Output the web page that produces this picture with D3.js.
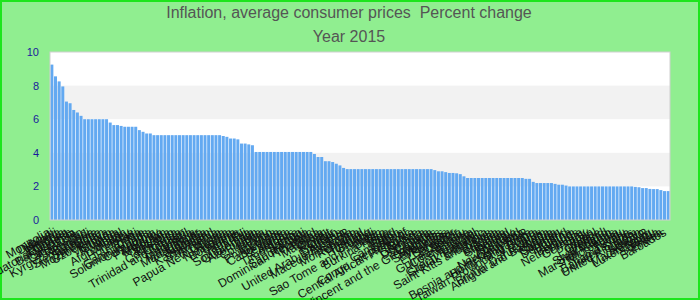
<!DOCTYPE html>
<html>
<head>
<meta charset="utf-8">
<script src="https://cdn.jsdelivr.net/npm/d3@7"></script>
<style>
  body { margin: 0; background: #90ee90; }
  svg { display: block; font-family: "Liberation Sans", Arial, sans-serif; }
</style>
</head>
<body>
<div id="chart"></div>
<script>
var titleLines = ["Inflation, average consumer prices  Percent change", "Year 2015"];

var countries = [
  "Mongolia","Djibouti","Malawi","Nigeria","Ethiopia","Equatorial Guinea","Bangladesh","Sri Lanka","Lao P.D.R.","Tajikistan",
  "Kyrgyz Republic","Burundi","Sierra Leone","Suriname","Mozambique","Uzbekistan","Kenya","Vietnam","Guinea","Rwanda",
  "Nepal","Afghanistan","Turkey","Honduras","Haiti","Tonga","Gambia, The","Solomon Islands","Cambodia","Zambia",
  "Paraguay","Moldova","Bhutan","Tanzania","Lesotho","Costa Rica","Uganda","Trinidad and Tobago","Brazil","Indonesia",
  "Mauritania","Madagascar","Jamaica","Namibia","Kazakhstan","Swaziland","Armenia","Tunisia","Papua New Guinea","Russia",
  "Nicaragua","Botswana","Algeria","Vanuatu","Fiji","South Africa","Guatemala","Azerbaijan","Chile","Colombia",
  "Peru","Mexico","Philippines","Georgia","Cabo Verde","Lebanon","Jordan","Comoros","Timor-Leste","Samoa",
  "Kiribati","Saudi Arabia","Dominican Republic","Thailand","China","Malaysia","Oman","Kuwait","Qatar","Bahrain",
  "United Arab Emirates","Albania","Macedonia, FYR","Serbia","Montenegro","Romania","Poland","Hungary","Croatia","Mali",
  "Sao Tome and Principe","Benin","Burkina Faso","Togo","Niger","Chad","Cameroon","Gabon","Congo, Republic of","Central African Republic",
  "Korea","Belize","Grenada","Dominica","St. Lucia","Guyana","Saint Vincent and the Grenadines","Maldives","Seychelles","Mauritius",
  "Panama","El Salvador","Ecuador","Bolivia","Guinea-Bissau","Côte d'Ivoire","Morocco","Israel","Czech Republic","Slovak Republic",
  "Lithuania","Saint Kitts and Nevis","Latvia","Estonia","Bulgaria","Slovenia","Iceland","Norway","Australia","New Zealand",
  "Bosnia and Herzegovina","Hong Kong SAR","Singapore","Taiwan Province of China","Malta","Cyprus","Brunei Darussalam","Antigua and Barbuda","Aruba","Canada",
  "Sweden","Denmark","Finland","Austria","Belgium","Netherlands","France","Germany","Italy","Spain",
  "Portugal","Greece","Ireland","Switzerland","San Marino","Marshall Islands","Micronesia","Palau","Tuvalu","Bahamas, The",
  "United States","United Kingdom","Japan","Kosovo","Macao SAR","Luxembourg","Nauru","Somalia","Eritrea","Barbados"
];

var inflation = [
  9.25, 8.55, 8.25, 7.95, 7.05, 6.95, 6.55, 6.4, 6.2, 6.0,
  6.0, 6.0, 6.0, 6.0, 6.0, 6.0, 5.8, 5.65, 5.65, 5.6,
  5.55, 5.55, 5.55, 5.55, 5.35, 5.25, 5.15, 5.15, 5.05, 5.05,
  5.05, 5.05, 5.05, 5.05, 5.05, 5.05, 5.05, 5.05, 5.05, 5.05,
  5.05, 5.05, 5.05, 5.05, 5.05, 5.05, 5.05, 5.0, 4.95, 4.85,
  4.85, 4.8, 4.55, 4.55, 4.5, 4.45, 4.05, 4.05, 4.05, 4.05,
  4.05, 4.05, 4.05, 4.05, 4.05, 4.05, 4.05, 4.05, 4.05, 4.05,
  4.05, 4.05, 3.93, 3.75, 3.75, 3.5, 3.5, 3.45, 3.35, 3.25,
  3.1, 3.03, 3.03, 3.03, 3.03, 3.03, 3.03, 3.03, 3.03, 3.03,
  3.03, 3.03, 3.03, 3.03, 3.03, 3.03, 3.03, 3.03, 3.03, 3.03,
  3.03, 3.03, 3.03, 3.03, 3.03, 2.97, 2.9, 2.9, 2.85, 2.8,
  2.8, 2.78, 2.73, 2.6, 2.5, 2.5, 2.5, 2.5, 2.5, 2.5,
  2.5, 2.5, 2.5, 2.5, 2.5, 2.5, 2.5, 2.5, 2.5, 2.5,
  2.45, 2.45, 2.27, 2.2, 2.2, 2.2, 2.2, 2.2, 2.15, 2.1,
  2.1, 2.05, 2.0, 2.0, 2.0, 2.0, 2.0, 2.0, 2.0, 2.0,
  2.0, 2.0, 2.0, 2.0, 2.0, 2.0, 2.0, 2.0, 2.0, 2.0,
  1.97, 1.95, 1.9, 1.9, 1.85, 1.84, 1.84, 1.78, 1.72, 1.72
];

var yTicks = [0, 2, 4, 6, 8, 10];

render();

function render() {
  var W = 700, H = 300;
  var margin = {top: 52, right: 30, bottom: 80, left: 50},
      width = W - margin.left - margin.right,
      height = H - margin.top - margin.bottom;

  var svg = d3.select("#chart").append("svg")
              .attr("width", W)
              .attr("height", H);

  // background + outer frame
  svg.append("rect")
     .attr("x", 1).attr("y", 1)
     .attr("width", W - 2).attr("height", H - 2)
     .attr("fill", "#90ee90")
     .attr("stroke", "#1de51d")
     .attr("stroke-width", 2);

  svg.selectAll(".title")
     .data(titleLines)
     .enter().append("text")
     .attr("class", "title")
     .attr("x", W / 2 - 1)
     .attr("y", (d, i) => 18 + i * 24)
     .attr("text-anchor", "middle")
     .attr("fill", "#555")
     .style("font-size", "16px")
     .style("white-space", "pre")
     .text(d => d);

  var g = svg.append("g")
             .attr("transform", "translate(" + margin.left + "," + margin.top + ")");

  var x = d3.scaleBand()
            .domain(d3.range(inflation.length))
            .range([0, width])
            .paddingInner(0.18)
            .paddingOuter(0.1);

  var y = d3.scaleLinear()
            .domain([0, 10])
            .range([height, 0]);

  g.append("rect")
   .attr("width", width)
   .attr("height", height)
   .attr("fill", "#fff");

  // alternating grey bands
  var bands = d3.pairs(yTicks).filter((p, i) => i % 2 == 1);
  g.selectAll(".band")
   .data(bands)
   .enter().append("rect")
   .attr("class", "band")
   .attr("x", 0)
   .attr("width", width)
   .attr("y", d => y(d[1]))
   .attr("height", d => y(d[0]) - y(d[1]))
   .attr("fill", "#f2f2f2");

  g.selectAll(".bar")
   .data(inflation)
   .enter().append("rect")
   .attr("class", "bar")
   .attr("x", (d, i) => x(i))
   .attr("y", d => y(d))
   .attr("width", x.bandwidth())
   .attr("height", d => height - y(d))
   .attr("fill", "#63a9f1");

  g.append("rect")
   .attr("width", width)
   .attr("height", height)
   .attr("fill", "none")
   .attr("stroke", "#cfcfcf");

  var yAxis = d3.axisLeft(y)
                .tickValues(yTicks)
                .tickSize(0)
                .tickPadding(11);

  g.append("g")
   .attr("class", "y axis")
   .call(yAxis)
   .call(a => a.select(".domain").remove())
   .selectAll("text")
   .attr("fill", "#1a1a9c")
   .style("font-size", "11px")
   .style("font-family", "Liberation Sans, Arial, sans-serif");

  var xAxis = d3.axisBottom(x)
                .tickSize(0)
                .tickFormat(i => countries[i]);

  g.append("g")
   .attr("class", "x axis")
   .attr("transform", "translate(0," + height + ")")
   .call(xAxis)
   .call(a => a.select(".domain").remove())
   .selectAll("text")
   .attr("x", 0)
   .attr("y", 0)
   .attr("dy", "0.35em")
   .attr("text-anchor", "end")
   .attr("transform", "translate(-3,11) rotate(-30)")
   .attr("fill", "#111")
   .style("font-size", "12px")
   .style("font-family", "Liberation Sans, Arial, sans-serif");
}
</script>
</body>
</html>
